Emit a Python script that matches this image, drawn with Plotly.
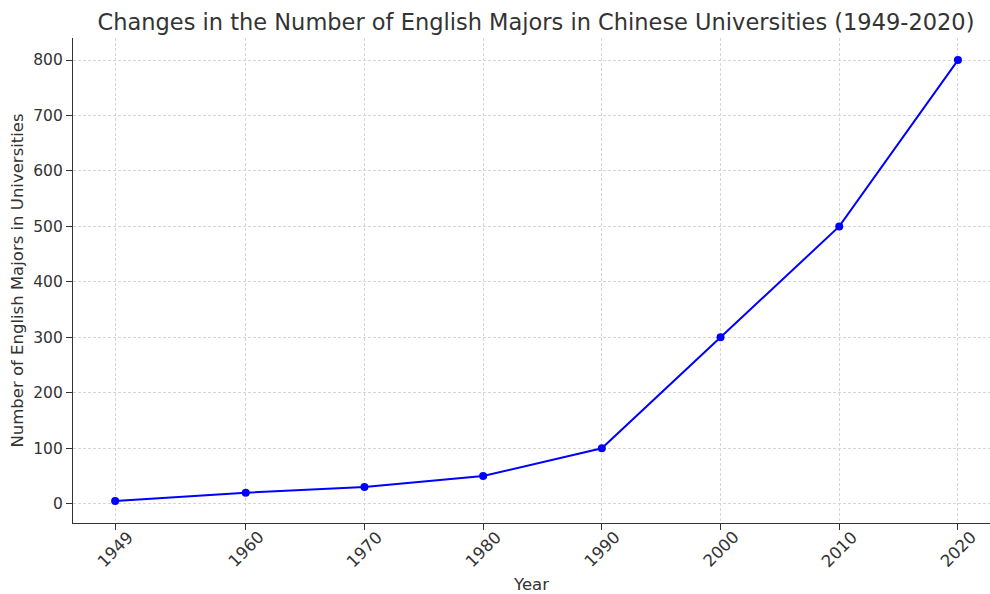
import plotly.graph_objects as go

years = [1949, 1960, 1970, 1980, 1990, 2000, 2010, 2020]
majors = [5, 20, 30, 50, 100, 300, 500, 800]
y_ticks = [0, 100, 200, 300, 400, 500, 600, 700, 800]

fig = go.Figure()
fig.add_trace(go.Scatter(
    x=years, y=majors, mode="lines+markers",
    line=dict(color="#0000ff", width=2),
    marker=dict(color="#0000ff", size=8),
    showlegend=False,
))

font = "DejaVu Sans, Verdana, sans-serif"
fig.update_layout(
    width=990, height=594,
    margin=dict(l=73, r=0, t=38, b=71),
    paper_bgcolor="white", plot_bgcolor="white",
    font=dict(family=font, size=16, color="#333333"),
    title=dict(
        text="Changes in the Number of English Majors in Chinese Universities (1949-2020)",
        x=536 / 990, xanchor="center", y=1 - 22 / 594, yanchor="middle",
        font=dict(family=font, size=22.5, color="#333333"),
    ),
)
# rotated tick labels centred on their ticks (matplotlib style)
for yr in years:
    fig.add_annotation(
        x=yr, xref="x", y=-(549 - 523) / 485, yref="paper",
        text=str(yr), textangle=-45, showarrow=False,
        xanchor="center", yanchor="middle",
        font=dict(family=font, size=16.5, color="#333333"),
    )
fig.update_xaxes(
    range=[1945.45, 2022.7], tickvals=years, showticklabels=False,
    ticks="outside", ticklen=6, tickcolor="#333333",
    showline=True, linecolor="#333333", linewidth=1.3, mirror=False,
    showgrid=True, gridcolor="#d6d6d6", griddash="3px,2px", gridwidth=0.8,
    zeroline=False,
    title=dict(text="Year", font=dict(size=16.5), standoff=50),
)
fig.update_yaxes(
    range=[-34.75, 839.75], tickvals=y_ticks,
    tickfont=dict(size=15.5),
    ticks="outside", ticklen=6, tickcolor="#333333",
    showline=True, linecolor="#333333", linewidth=1.3,
    showgrid=True, gridcolor="#d6d6d6", griddash="3px,2px", gridwidth=0.8,
    zeroline=False,
    title=dict(text="Number of English Majors in Universities", font=dict(size=16.5), standoff=5),
)

fig.write_html("out.html")
